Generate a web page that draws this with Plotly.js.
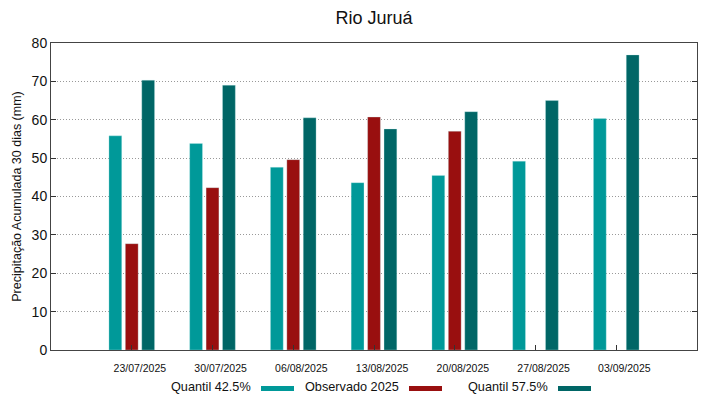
<!DOCTYPE html>
<html>
<head>
<meta charset="utf-8">
<script src="https://cdn.plot.ly/plotly-3.0.1.min.js"></script>
<style>html,body{margin:0;padding:0;background:#fff;}#chart{width:719px;height:399px;}</style>
</head>
<body>
<div id="chart"></div>
<script>
const dates = ["23/07/2025","30/07/2025","06/08/2025","13/08/2025","20/08/2025","27/08/2025","03/09/2025"];
const quantil425 = [55.8, 53.8, 47.6, 43.6, 45.5, 49.2, 60.3];
const observado2025 = [27.7, 42.3, 49.6, 60.7, 57.0, null, null];
const quantil575 = [70.3, 69.0, 60.5, 57.6, 62.1, 65.0, 76.9];
const seriesNames = ["Quantil 42.5%", "Observado 2025", "Quantil 57.5%"];
const colors = ["#009999", "#990f0f", "#006666"];

const idx = dates.map((d, i) => i);
const labelPos = idx.map(i => i + 0.1);
const allSeries = [quantil425, observado2025, quantil575];
const traces = allSeries.map((vals, k) => ({
  type: "bar",
  x: idx,
  y: vals,
  name: seriesNames[k],
  marker: {color: colors[k], line: {color: "rgba(200,240,240,0.6)", width: 0.5}},
  showlegend: false,
  hoverinfo: "y"
}));
// invisible helper trace so the label axis is drawn
traces.push({type: "scatter", x: labelPos, y: idx.map(() => null), xaxis: "x2", yaxis: "y",
             mode: "markers", showlegend: false, hoverinfo: "skip"});

const font = "Liberation Sans, Arial, sans-serif";
const annotations = [];
const shapes = [];
const L = 51, W = 646, B = 350, H = 307;
const legendTextEnd = [253, 401, 550];
const legendSw = [[261, 294], [409, 442], [558, 591]];
for (let k = 0; k < 3; k++) {
  annotations.push({
    xref: "paper", yref: "paper",
    x: (legendTextEnd[k] - L) / W, y: -(387 - B) / H,
    xanchor: "right", yanchor: "middle", xshift: 0,
    text: seriesNames[k], showarrow: false,
    font: {family: font, size: 12.7, color: "#111"}
  });
  shapes.push({
    type: "rect", xref: "paper", yref: "paper",
    x0: (legendSw[k][0] - L) / W, x1: (legendSw[k][1] - L) / W,
    y0: -(391 - B) / H, y1: -(386 - B) / H,
    fillcolor: colors[k], line: {width: 0}
  });
}

const layout = {
  width: 719, height: 399,
  margin: {l: 51, r: 22, t: 43, b: 49},
  paper_bgcolor: "#fff", plot_bgcolor: "#fff",
  font: {family: font, color: "#111"},
  title: {text: "Rio Juruá", x: 0.5, xref: "paper", y: 0.955, yanchor: "middle",
          font: {family: font, size: 18, color: "#111"}},
  barmode: "group",
  bargap: 0.39,
  bargroupgap: 0.22,
  xaxis: {
    range: [-1, 7],
    tickmode: "array", tickvals: idx, ticktext: dates, showticklabels: false,
    ticks: "inside", ticklen: 5, tickcolor: "#333",
    showline: true, linecolor: "#444", linewidth: 1, mirror: true,
    showgrid: false, zeroline: false
  },
  xaxis2: {
    overlaying: "x", side: "bottom", anchor: "y",
    range: [-1, 7],
    tickmode: "array", tickvals: labelPos, ticktext: dates,
    ticks: "", showline: false, showgrid: false, zeroline: false,
    ticklabelstandoff: 10,
    tickfont: {family: font, size: 10.5, color: "#111"}
  },
  yaxis: {
    range: [0, 80], dtick: 10,
    ticks: "inside", ticklen: 5, tickcolor: "#333",
    showline: true, linecolor: "#444", linewidth: 1, mirror: "ticks",
    showgrid: true, gridcolor: "#999", griddash: "1px,2px", gridwidth: 1,
    zeroline: false,
    tickfont: {family: font, size: 14, color: "#111"},
    title: {text: "Precipitação Acumulada 30 dias (mm)", standoff: 7,
            font: {family: font, size: 12.5, color: "#111"}}
  },
  annotations: annotations,
  shapes: shapes
};

Plotly.newPlot("chart", traces, layout, {displayModeBar: false, staticPlot: true});
</script>
</body>
</html>
